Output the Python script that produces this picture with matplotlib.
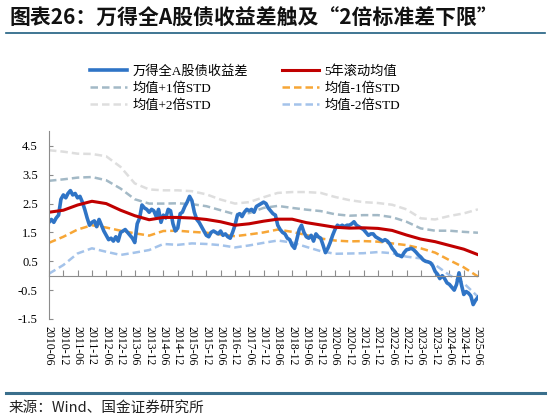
import numpy as np
import pandas as pd
import matplotlib
matplotlib.use("Agg")
import matplotlib.pyplot as plt
from matplotlib.lines import Line2D

# monthly 万得全A股债收益差, 2010-06 .. 2025-06
spread = [
    1.85, 1.95, 1.85, 2.00, 2.10, 2.65, 2.80, 2.70, 2.85, 2.95, 2.80, 2.85,
    2.70, 2.75, 2.55, 2.30, 2.00, 1.75, 1.85, 1.90, 1.70, 1.95, 1.75, 1.55,
    1.40, 1.25, 1.30, 1.20, 1.35, 1.20, 1.50, 1.55, 1.60, 1.50, 1.40, 1.30,
    1.15, 1.80, 2.00, 2.45, 2.35, 2.30, 2.20, 2.30, 2.25, 2.05, 2.30, 1.85,
    2.10, 2.00, 2.30, 2.25, 1.80, 1.55, 1.65, 2.15, 2.20, 2.40, 2.55, 2.75,
    2.60, 2.20, 1.95, 1.85, 1.70, 1.55, 1.40, 1.35, 1.50, 1.55, 1.50, 1.45,
    1.55, 1.40, 1.45, 1.35, 1.30, 1.50, 1.75, 2.10, 2.15, 2.05, 2.20, 2.30,
    2.25, 2.30, 2.20, 2.40, 2.45, 2.50, 2.55, 2.50, 2.35, 2.25, 2.15, 2.10,
    1.75, 1.60, 1.50, 1.45, 1.30, 1.25, 1.05, 0.95, 1.25, 1.60, 1.75, 1.50,
    1.35, 1.30, 1.40, 1.20, 1.45, 1.35, 1.30, 1.05, 0.80, 0.95, 1.15, 1.40,
    1.60, 1.75, 1.70, 1.75, 1.70, 1.75, 1.75, 1.80, 1.87, 1.75, 1.70, 1.65,
    1.60, 1.50, 1.40, 1.45, 1.45, 1.35, 1.30, 1.25, 1.20, 1.25, 1.20, 1.10,
    0.95, 0.85, 0.72, 0.70, 0.66, 0.80, 0.90, 0.92, 0.95, 0.90, 0.82, 0.72,
    0.65, 0.55, 0.50, 0.48, 0.45, 0.35, 0.15, 0.05, -0.10, 0.00, -0.10, -0.25,
    -0.30, -0.40, -0.50, -0.30, 0.10, -0.30, -0.65, -0.55, -0.60, -0.70, -1.00, -0.85,
    -0.75,
]

# half-yearly band values, 2010-06 .. 2025-06
mean5y = [2.20, 2.27, 2.45, 2.58, 2.50, 2.27, 2.08, 1.94, 2.02, 2.02, 2.00, 1.95,
          1.87, 1.75, 1.80, 1.89, 1.96, 1.96, 1.84, 1.76, 1.68, 1.65, 1.66, 1.64,
          1.57, 1.41, 1.27, 1.18, 1.05, 0.92, 0.73]
plus1 = [3.29, 3.34, 3.40, 3.42, 3.31, 3.02, 2.65, 2.50, 2.50, 2.51, 2.48, 2.41,
         2.27, 2.13, 2.17, 2.35, 2.42, 2.35, 2.29, 2.24, 2.13, 2.08, 2.10, 2.10,
         2.03, 1.87, 1.64, 1.56, 1.56, 1.52, 1.49]
minus1 = [1.14, 1.35, 1.60, 1.75, 1.67, 1.56, 1.47, 1.39, 1.55, 1.56, 1.52, 1.49,
          1.43, 1.37, 1.43, 1.50, 1.60, 1.52, 1.41, 1.29, 1.22, 1.19, 1.20, 1.18,
          1.12, 1.06, 0.95, 0.80, 0.54, 0.29, -0.03]
plus2 = [4.35, 4.30, 4.23, 4.22, 4.14, 3.77, 3.20, 2.99, 2.96, 2.96, 2.93, 2.82,
         2.64, 2.50, 2.55, 2.72, 2.87, 2.90, 2.90, 2.87, 2.73, 2.62, 2.55, 2.52,
         2.46, 2.30, 1.99, 1.95, 2.07, 2.16, 2.30]
minus2 = [0.07, 0.37, 0.77, 0.95, 0.83, 0.72, 0.80, 0.89, 1.10, 1.07, 1.12, 1.10,
          1.06, 0.98, 1.05, 1.14, 1.22, 1.15, 1.00, 0.85, 0.76, 0.77, 0.78, 0.82,
          0.78, 0.66, 0.60, 0.38, 0.02, -0.26, -0.73]

months = pd.date_range("2010-06-30", periods=len(spread), freq="ME")
halfyears = pd.date_range("2010-06-30", "2025-06-30", freq="6ME")
tick_labels = [d.strftime("%Y-%m") for d in halfyears]
yticks = np.arange(-1.5, 4.6, 1.0)

serif = ["Liberation Serif", "Noto Sans CJK SC"]
plt.rcParams["font.family"] = serif

fig = plt.figure(figsize=(5.5, 4.2), dpi=100)
ax = fig.add_axes([0.089, 0.2405, 0.78, 0.4465])

dash = (3, 1.6)
ax.plot(halfyears, plus2, color="#dedede", lw=1.8, dashes=dash)
ax.plot(halfyears, plus1, color="#a3b9c6", lw=1.8, dashes=dash)
ax.plot(halfyears, minus2, color="#a4c3ea", lw=1.8, dashes=dash)
ax.plot(halfyears, minus1, color="#f7a636", lw=1.8, dashes=dash)
ax.plot(months, spread, color="#2f74c6", lw=2.6)
ax.plot(halfyears, mean5y, color="#c00000", lw=2.2)

for s in ["top", "right"]:
    ax.spines[s].set_visible(False)
ax.spines["bottom"].set_position(("data", 0))
ax.spines["bottom"].set_color("#8c8c8c")
ax.spines["left"].set_color("#8c8c8c")
ax.tick_params(axis="x", direction="in", length=4, color="#8c8c8c", pad=36, labelsize=8.5)
ax.tick_params(axis="y", direction="in", length=3, color="#8c8c8c", pad=8, labelsize=9)

ax.set_xlim(months[0], months[-1])
ax.set_ylim(-1.5, 5.0)
ax.set_yticks(yticks)
ax.set_yticklabels([f"{v:.1f}" for v in yticks])
ax.set_xticks(halfyears)
ax.set_xticklabels(tick_labels)
plt.setp(ax.get_xticklabels(), rotation=270, va="top", ha="center")

handles = [
    Line2D([], [], color="#2f74c6", lw=2.6),
    Line2D([], [], color="#a3b9c6", lw=1.8, dashes=dash),
    Line2D([], [], color="#dedede", lw=1.8, dashes=dash),
    Line2D([], [], color="#c00000", lw=2.2),
    Line2D([], [], color="#f7a636", lw=1.8, dashes=dash),
    Line2D([], [], color="#a4c3ea", lw=1.8, dashes=dash),
]
labels = ["万得全A股债收益差", "均值+1倍STD", "均值+2倍STD",
          "5年滚动均值", "均值-1倍STD", "均值-2倍STD"]
fig.legend(handles, labels, loc="upper left", bbox_to_anchor=(90 / 550, 1 - 65 / 420),
           ncol=2, frameon=False, fontsize=9.5, handlelength=2.8, handletextpad=0.4,
           columnspacing=2.6, labelspacing=0.35, borderpad=0, borderaxespad=0)

fig.text(0.018, 1 - 18 / 420, "图表26：万得全A股债收益差触及“2倍标准差下限”",
         family=["Noto Sans CJK SC"], fontsize=15, fontweight="bold",
         va="center", ha="left", color="#111111")
fig.add_artist(Line2D([0.01, 0.99], [1 - 33 / 420] * 2, color="#1f5f80", lw=1.2))
fig.add_artist(Line2D([0.01, 0.99], [1 - 393 / 420] * 2, color="#3a6f8c", lw=2.2))
fig.text(0.015, 1 - 408 / 420, "来源：Wind、国金证券研究所",
         family=["Noto Sans CJK SC"], fontsize=10.5, va="center", ha="left", color="#222222")

fig.savefig("out.png", dpi=100)
